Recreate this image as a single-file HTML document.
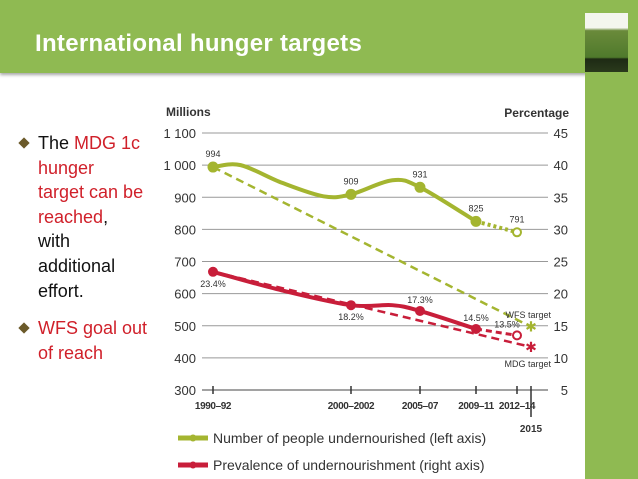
<!DOCTYPE html>
<html><head><meta charset="utf-8"><style>
body{margin:0;width:638px;height:479px;overflow:hidden;background:#fff;font-family:"Liberation Sans",sans-serif;position:relative}
.hdr{position:absolute;left:0;top:0;width:638px;height:73px;background:#8fba52;box-shadow:0 2px 3px rgba(0,0,0,.35)}
.title{position:absolute;left:35px;top:30px;color:#fff;font-weight:bold;font-size:24px;letter-spacing:0.3px}
.strip{position:absolute;left:585px;top:0;width:53px;height:479px;background:#8fba52}
.cover{position:absolute;left:585px;top:13px;width:43px;height:59px;background:linear-gradient(#f4f6ee 0,#f4f6ee 25%,#6a8a3a 30%,#4f7a2c 75%,#1e2a14 78%,#2a3a1c 100%)}
.bul{position:absolute;left:38px;font-size:18px;line-height:24.6px;color:#111}
.r{color:#d0202a}
.dia{position:absolute;left:20px;width:8px;height:8px;background:#6b5a2a;transform:rotate(45deg)}
</style></head><body>
<div class="hdr"></div>
<div class="strip"></div>
<div class="cover"></div>
<div class="title">International hunger targets</div>
<div class="dia" style="top:139px"></div>
<div class="bul" style="top:131px">The <span class="r">MDG 1c<br>hunger<br>target can be<br>reached</span>,<br>with<br>additional<br>effort.</div>
<div class="dia" style="top:324px"></div>
<div class="bul r" style="top:316px">WFS goal out<br>of reach</div>
<svg id="chart" width="638" height="479" style="position:absolute;left:0;top:0"></svg>
<script>
const catLabels=["1990–92","2000–2002","2005–07","2009–11","2012–14"];
const catYears=[1991,2001,2006,2010,2013];
const leftTicks=[300,400,500,600,700,800,900,1000,1100];
const rightTicks=[5,10,15,20,25,30,35,40,45];
const numYears=[1991,2001,2006,2010,2013];
const numValues=[994,909,931,825,791];
const numCurveYears=[1991,1993,1996,1999,2001,2004,2006,2010];
const numCurveValues=[994,1000,945,903,909,953,931,825];
const wfsTarget=497;
const pctYears=[1991,2001,2006,2010,2013];
const pctValues=[23.4,18.2,17.3,14.5,13.5];
const pctCurveYears=[1991,1996,2001,2004,2006,2010];
const pctCurveValues=[23.4,20.5,18.2,18.2,17.3,14.5];
const mdgTarget=11.7;
const axYears=[1991,2001,2006,2010,2013,2015];
const axPx=[213,351,420,476,517,531];
function X(y){for(let i=0;i<axYears.length-1;i++){if(y<=axYears[i+1]){return axPx[i]+(y-axYears[i])/(axYears[i+1]-axYears[i])*(axPx[i+1]-axPx[i]);}}return axPx[axPx.length-1];}
function YL(m){return 133+(1100-m)*0.3213;}
function YR(p){return 133+(45-p)*6.425;}
const svg=document.getElementById('chart');const NS='http://www.w3.org/2000/svg';
function mk(t,a,txt){const e=document.createElementNS(NS,t);for(const k in a)e.setAttribute(k,a[k]);if(txt!==undefined)e.textContent=txt;svg.appendChild(e);return e;}
function smooth(pts){let d='M'+pts[0][0]+','+pts[0][1];for(let i=0;i<pts.length-1;i++){const p0=pts[i-1]||pts[i],p1=pts[i],p2=pts[i+1],p3=pts[i+2]||p2;const c1x=p1[0]+(p2[0]-p0[0])/6,c1y=p1[1]+(p2[1]-p0[1])/6,c2x=p2[0]-(p3[0]-p1[0])/6,c2y=p2[1]-(p3[1]-p1[1])/6;d+=' C'+c1x+','+c1y+' '+c2x+','+c2y+' '+p2[0]+','+p2[1];}return d;}
const G='#a4b530',R='#c81e3a',F='font-family:"Liberation Sans",sans-serif';
let e;
leftTicks.forEach((t,i)=>{
e=mk('line',{x1:202,x2:548,y1:YL(t),y2:YL(t),stroke:t===300?'#444':'#999','stroke-width':1});

e=mk('text',{x:196,y:YL(t)+5,'text-anchor':'end','font-size':13,fill:'#333',style:F},t>=1000?String(t).replace(/(\d)(\d{3})$/,'$1 $2'):t);

e=mk('text',{x:568,y:YR(rightTicks[i])+5,'text-anchor':'end','font-size':13,fill:'#333',style:F},rightTicks[i]);

});
e=mk('text',{x:166,y:116,'font-size':12,'font-weight':'bold',fill:'#333',style:F},'Millions');

e=mk('text',{x:569,y:117,'text-anchor':'end','font-size':12,'font-weight':'bold',fill:'#333',style:F},'Percentage');

catYears.forEach((y,i)=>{
e=mk('line',{x1:X(y),x2:X(y),y1:386,y2:394,stroke:'#333','stroke-width':1.5});

e=mk('text',{x:X(y),y:409,'text-anchor':'middle','font-size':10,'font-weight':'bold',fill:'#333',style:F+';letter-spacing:-0.4px'},catLabels[i]);

});
e=mk('line',{x1:X(2015),x2:X(2015),y1:386,y2:417,stroke:'#333','stroke-width':1.5});

e=mk('text',{x:X(2015),y:432,'text-anchor':'middle','font-size':10,'font-weight':'bold',fill:'#333',style:F},'2015');

e=mk('line',{x1:X(numYears[0]),y1:YL(numValues[0]),x2:X(2015),y2:YL(wfsTarget),stroke:G,'stroke-width':2.5,'stroke-dasharray':'8,5'});

e=mk('line',{x1:X(pctYears[0]),y1:YR(pctValues[0]),x2:X(2015),y2:YR(mdgTarget),stroke:R,'stroke-width':2.5,'stroke-dasharray':'8,5'});

e=mk('path',{d:smooth(numCurveYears.map((y,i)=>[X(y),YL(numCurveValues[i])])),fill:'none',stroke:G,'stroke-width':4});

e=mk('line',{x1:X(numYears[3]),y1:YL(numValues[3]),x2:X(numYears[4]),y2:YL(numValues[4]),stroke:G,'stroke-width':4,'stroke-dasharray':'3,3'});

e=mk('path',{d:smooth(pctCurveYears.map((y,i)=>[X(y),YR(pctCurveValues[i])])),fill:'none',stroke:R,'stroke-width':4});

e=mk('line',{x1:X(pctYears[3]),y1:YR(pctValues[3]),x2:X(pctYears[4]),y2:YR(pctValues[4]),stroke:R,'stroke-width':3,'stroke-dasharray':'6,4'});

numYears.forEach((y,i)=>{
e=mk('circle',{cx:X(y),cy:YL(numValues[i]),r:i===4?4:4.5,fill:i===4?'#fff':G,stroke:G,'stroke-width':2});

e=mk('text',{x:X(y),y:YL(numValues[i])-10,'text-anchor':'middle','font-size':9,fill:'#333',style:F},numValues[i]);

});
pctYears.forEach((y,i)=>{
e=mk('circle',{cx:X(y),cy:YR(pctValues[i]),r:4,fill:i===4?'#fff':R,stroke:R,'stroke-width':2});

const above=(i===2||i===3||i===4);
e=mk('text',{x:X(y)+(i===4?-10:0),y:YR(pctValues[i])+(above?-8:15),'text-anchor':'middle','font-size':9,fill:'#333',style:F},pctValues[i]+'%');

});
e=mk('text',{x:X(2015),y:YL(wfsTarget)+5,'text-anchor':'middle','font-size':14,fill:G,style:F},'✱');

e=mk('text',{x:X(2015),y:YR(mdgTarget)+5,'text-anchor':'middle','font-size':14,fill:R,style:F},'✱');

e=mk('text',{x:551,y:318,'text-anchor':'end','font-size':9,fill:'#333',style:F},'WFS target');

e=mk('text',{x:551,y:367,'text-anchor':'end','font-size':9,fill:'#333',style:F},'MDG target');

e=mk('line',{x1:178,x2:208,y1:438,y2:438,stroke:G,'stroke-width':5});

mk('circle',{cx:193,cy:438,r:3.5,fill:G});
e=mk('text',{x:213,y:443,'font-size':14,fill:'#333',style:F},'Number of people undernourished (left axis)');

e=mk('line',{x1:178,x2:208,y1:465,y2:465,stroke:R,'stroke-width':5});

mk('circle',{cx:193,cy:465,r:3.5,fill:R});
e=mk('text',{x:213,y:470,'font-size':14,fill:'#333',style:F},'Prevalence of undernourishment (right axis)');

</script>
</body></html>
